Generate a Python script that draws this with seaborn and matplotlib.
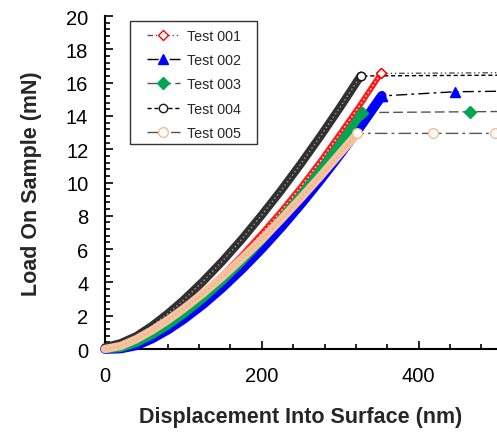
import pandas as pd
import seaborn as sns
import matplotlib.pyplot as plt
from matplotlib.patches import Rectangle
from matplotlib.ticker import MultipleLocator

# loading segment (nm, mN)
depth = [0, 20, 40, 60, 80, 100, 125, 150, 175, 200, 225, 250, 275, 300]
load_001 = [0.0, 0.1, 0.5, 1.0, 1.6, 2.3, 3.3, 4.45, 5.65, 6.95, 8.3, 9.75, 11.3, 12.95]
load_002 = [0.0, 0.03, 0.22, 0.63, 1.16, 1.79, 2.69, 3.71, 4.83, 6.04, 7.34, 8.72, 10.18, 11.71]
load_003 = [0.0, 0.06, 0.37, 0.84, 1.42, 2.09, 3.04, 4.10, 5.26, 6.52, 7.86, 9.28, 10.78, 12.36]
load_004 = [0.1, 0.35, 0.77, 1.39, 2.12, 2.93, 4.06, 5.29, 6.62, 8.05, 9.55, 11.14, 12.8, 14.53]
load_005 = [0.0, 0.18, 0.59, 1.12, 1.73, 2.41, 3.34, 4.35, 5.44, 6.58, 7.80, 9.07, 10.39, 11.76]

# rest of each test past 300 nm: top of loading, then the flat hold
tail_x_001 = [325, 352, 520]
tail_y_001 = [14.63, 16.55, 16.6]
tail_x_002 = [325, 353, 446, 540]
tail_y_002 = [13.32, 15.2, 15.45, 15.5]
tail_x_003 = [328, 465, 600]
tail_y_003 = [14.2, 14.25, 14.3]
tail_x_004 = [326, 520]
tail_y_004 = [16.4, 16.45]
tail_x_005 = [322, 418, 498, 560]
tail_y_005 = [12.95, 12.95, 12.95, 12.95]
peak_pos = [1, 1, 0, 0, 0]   # index of the peak inside each tail

tests = ["Test 001", "Test 002", "Test 003", "Test 004", "Test 005"]
loads = [load_001, load_002, load_003, load_004, load_005]
tails_x = [tail_x_001, tail_x_002, tail_x_003, tail_x_004, tail_x_005]
tails_y = [tail_y_001, tail_y_002, tail_y_003, tail_y_004, tail_y_005]

colors = ["#ff0000", "#0000ff", "#00a651", "#1a1a1a", "#f5bd96"]
band_col = ["#ff1a1a", "#0000ff", "#00a651", "#303030", "#f6c3a0"]
speckle = ["white", None, None, "#a0a0a0", "#e8a67a"]
markers = ["D", "^", "D", "o", "o"]
filled = [False, True, True, False, False]
msizes = [5, 7, 6, 6, 7]
band_w = [4, 7, 6, 6, 6]
line_col = ["#555555", "#000000", "#555555", "#000000", "#555555"]
styles = [(0, (4, 2, 1, 2, 1, 2)), (0, (8, 3, 2, 3)), (0, (7, 3)), (0, (3, 2)), (0, (9, 3, 2, 3))]

sns.set_style("ticks")
plt.rcParams["font.family"] = ["Liberation Sans", "DejaVu Sans"]

fig = plt.figure(figsize=(4.97, 4.35), dpi=100)
ax = fig.add_axes([0.2113, 0.1954, 0.7887, 0.7655])

for i, name in enumerate(tests):
    xs = depth + tails_x[i]
    ys = loads[i] + tails_y[i]
    k = len(depth) + peak_pos[i]
    mfc = colors[i] if filled[i] else "white"
    # dense marker band of the loading segment
    ax.plot(xs[:k + 1], ys[:k + 1], color=band_col[i], lw=band_w[i], solid_capstyle="round",
            clip_on=False, zorder=2 + i)
    if speckle[i]:
        ax.plot(xs[:k + 1], ys[:k + 1], color=speckle[i], lw=1, ls=(0, (1, 2)),
                clip_on=False, zorder=2.2 + i)
    df = pd.DataFrame({"x": xs, "y": ys})
    sns.lineplot(data=df, x="x", y="y", ax=ax, sort=False, label=name,
                 color=line_col[i], linestyle=styles[i], lw=1,
                 marker=markers[i], markersize=msizes[i],
                 markevery=list(range(k, len(xs))),
                 markerfacecolor=mfc, markeredgecolor=colors[i], markeredgewidth=1,
                 clip_on=False, zorder=1.5)
    # last loading marker sits on top of the band
    ax.plot([xs[k]], [ys[k]], ls="none", marker=markers[i], markersize=msizes[i],
            markerfacecolor=mfc, markeredgecolor=colors[i], markeredgewidth=1,
            clip_on=False, zorder=2.4 + i)

ax.set_xlim(0, 500)
ax.set_ylim(0, 20)
ax.xaxis.set_major_locator(MultipleLocator(200))
ax.xaxis.set_minor_locator(MultipleLocator(40))
ax.yaxis.set_major_locator(MultipleLocator(2))
ax.yaxis.set_minor_locator(MultipleLocator(0.4))
ax.tick_params(which="both", direction="in", width=1.2, colors="black", labelsize=14.5)
ax.tick_params(which="major", length=6)
ax.tick_params(which="minor", length=3.5)
ax.tick_params(axis="y", which="major", pad=12)
ax.tick_params(axis="x", which="major", pad=12)

sns.despine(ax=ax)
for s in ["left", "bottom"]:
    ax.spines[s].set_linewidth(1.5)
    ax.spines[s].set_color("black")

ax.set_xlabel("Displacement Into Surface (nm)", fontsize=15.5, fontweight="bold", labelpad=15)
ax.set_ylabel("Load On Sample (mN)", fontsize=15.5, fontweight="bold", labelpad=17)

# legend box drawn by hand: wide side padding, tight top and bottom
ax.add_patch(Rectangle((0.0638, 0.6156), 0.324, 0.3694, transform=ax.transAxes,
                       facecolor="white", edgecolor="#333333", lw=1, zorder=9))
leg = ax.legend(loc="upper left", bbox_to_anchor=(0.107, 0.962), fontsize=10.3,
                frameon=False, handlelength=2.3, labelspacing=0.72, borderpad=0,
                handletextpad=0.5, borderaxespad=0)
leg.set_zorder(10)

fig.savefig("out.png", dpi=100)
